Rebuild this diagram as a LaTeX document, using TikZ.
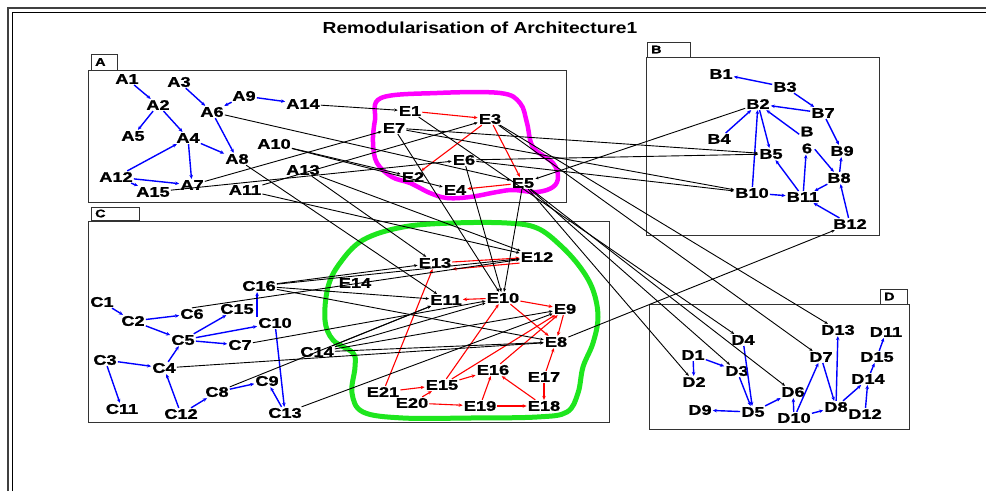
\documentclass[tikz,border=0pt]{standalone}
\usepackage{fontspec}
\setmainfont{Liberation Sans}
\newfontfamily\labfont{Liberation Sans}[FakeStretch=1.3, FakeBold=1.2]
\newfontfamily\titfont{Liberation Sans}[FakeStretch=1.2]
\usetikzlibrary{arrows.meta}
\begin{document}
\begin{tikzpicture}[x=1pt,y=-1pt,
  lab/.style={font=\labfont\bfseries\fontsize{14}{17}\selectfont, inner sep=1pt},
  tablab/.style={font=\labfont\bfseries\fontsize{11}{13}\selectfont, inner sep=0pt, anchor=west},
  frame/.style={draw=black!80, line width=1pt},
  be/.style={draw=blue, line width=1.4pt, -{Stealth[length=4pt,width=3.5pt]}},
  re/.style={draw=red, line width=1.1pt, -{Stealth[length=4pt,width=3.5pt]}},
  ke/.style={draw=black, line width=0.9pt, -{Stealth[length=3.5pt,width=3pt]}},
  blobm/.style={draw={rgb,255:red,255;green,0;blue,255}, line width=4.5pt},
  blobg/.style={draw={rgb,255:red,30;green,230;blue,30}, line width=5pt}]
\useasboundingbox (0,0) rectangle (986,491);
\fill[white] (0,0) rectangle (986,491);
% outer frame
\draw[black!75, line width=2pt] (8,491) -- (8,8) -- (986,8);
\draw[black, line width=0.8pt] (12.7,491) -- (12.7,12.7) -- (986,12.7);
\node[font=\titfont\bfseries\fontsize{16}{19}\selectfont, inner sep=0pt] (title) at (480,28) {Remodularisation of Architecture1};
% boxes
\draw[frame] (88,70) rectangle (566,202);
\draw[frame] (91,54) rectangle (117,70);
\node[tablab] (tA) at (95,62) {A};
\draw[frame] (646,57) rectangle (879,235);
\draw[frame] (647,42) rectangle (690,57);
\node[tablab] (tB) at (651,49.5) {B};
\draw[frame] (88,221) rectangle (609,422);
\draw[frame] (91,207) rectangle (139,220);
\node[tablab] (tC) at (95,213.5) {C};
\draw[frame] (649,304) rectangle (909,429);
\draw[frame] (880,289) rectangle (907,304);
\node[tablab] (tD) at (884,296.5) {D};
% blobs
\draw[blobm] plot[smooth cycle, tension=0.6] coordinates {(381,98) (437,93) (500,93) (520,103) (527,123) (533,147) (553,163) (558,177) (553,187) (537,192) (513,190) (497,192) (470,197) (447,198) (430,193) (410,183) (392,177) (377,163) (373,143) (375,120)};
\draw[blobg] plot[smooth cycle, tension=0.6] coordinates {(340,263) (363,240) (403,227) (453,223) (507,223) (537,228) (560,245) (580,267) (593,290) (598,317) (593,343) (583,367) (578,393) (567,412) (537,417) (470,418) (403,418) (363,412) (352,393) (355,367) (353,353) (333,340) (325,320) (328,287)};
% nodes
\foreach \n/\x/\y in {A1/127/79, A3/179/82, A2/158/105, A6/212/112, A9/244/96, A14/303/104, A5/133/136, A4/188/138, A10/274/144, A8/237/159, A13/303/170, A12/116/177, A7/192/185, A15/153/192, A11/245/190,
 E1/410/111, E3/490/119, E7/394/128, E6/464/160, E2/413/177, E4/455/190, E5/523/183,
 B1/721/74, B3/785/87, B2/758/104, B7/823/113, B4/719/139, B9/842/151, B5/771/154, B8/839/178, B10/752/193, B11/803/197, B12/850/224,
 C16/259/286, C1/102/302, C6/192/314, C15/237/309, C2/133/321, C10/275/323, C5/183/340, C7/240/345, C14/317/352, C3/105/360, C4/164/368, C8/217/392, C9/267/381, C11/122/409, C12/181/414, C13/285/413,
 E13/435/263, E12/537/257, E14/355/283, E11/446/300, E10/503/298, E9/565/309, E8/556/342, E16/493/370, E17/544/377, E15/442/385, E21/383/392, E20/412/403, E19/480/406, E18/544/406,
 D13/838/330, D11/886/332, D4/743/340, D7/821/357, D15/877/357, D1/693/355, D3/737/371, D2/694/382, D14/868/379, D6/793/392, D9/700/410, D5/753/412, D8/836/407, D12/865/414, D10/794/418}
  {\node[lab] (\n) at (\x,\y) {\n};}
\node[lab, align=center] (B6) at (807,140) {B\\6};
% blue edges
\foreach \a/\b in {A1/A2, A2/A4, A2/A5, A3/A6, A6/A8, A9/A6, A9/A14, A4/A7, A4/A8, A12/A4, A12/A7, A12/A15,
 B3/B1, B3/B7, B7/B2, B4/B2, B10/B2, B2/B5, B6/B2, B7/B9, B8/B9, B11/B5, B11/B6, B6/B8, B8/B11, B10/B11, B12/B11, B12/B8,
 C1/C2, C2/C6, C2/C5, C5/C15, C5/C10, C5/C7, C4/C5, C3/C4, C3/C11, C12/C4, C12/C8, C8/C9, C13/C9, C10/C13,
 D1/D3, D1/D2, D3/D5, D4/D5, D5/D9, D5/D6, D10/D6, D10/D7, D7/D8, D8/D13, D10/D8, D8/D14, D12/D14, D14/D15, D15/D11}
  {\draw[be] (\a) -- (\b);}
\draw[be] (C10.north west) -- (C10.north west |- C16.south);
% red edges
\foreach \a/\b in {E1/E3, E3/E2, E3/E5, E5/E4,
 E13/E12, E10/E11, E10/E9, E10/E8, E9/E8, E15/E10, E15/E9, E16/E9, E21/E13, E21/E15, E20/E15, E15/E16, E19/E16, E18/E16, E20/E19, E19/E18, E17/E18, E17/E8}
  {\draw[re] (\a) -- (\b);}
\draw[re] (E12.south west) -- (E13.south east);
% black edges
\foreach \a/\b in {A14/E1, A6/E5, A10/E2, A10/E4, A8/E11, A7/E7, A15/E6, A11/E3, A11/E12, A13/E12, A13/E13,
 E7/E10, E6/E10, E5/E10, E7/B5, E6/B5, E7/B10, E6/B10, B2/E5, E8/B12,
 E5/D2, E5/D3, E5/D6, E1/D4, E3/D7, E3/D13,
 C16/E13, C16/E12, C16/E11, C16/E8, C14/E11, C14/E10, C14/E9, C14/E8, C7/E10, C4/E8, C8/E11, C13/E9}
  {\draw[ke] (\a) -- (\b);}
\draw[ke] (C6.north) -- (E12);
\end{tikzpicture}
\end{document}
